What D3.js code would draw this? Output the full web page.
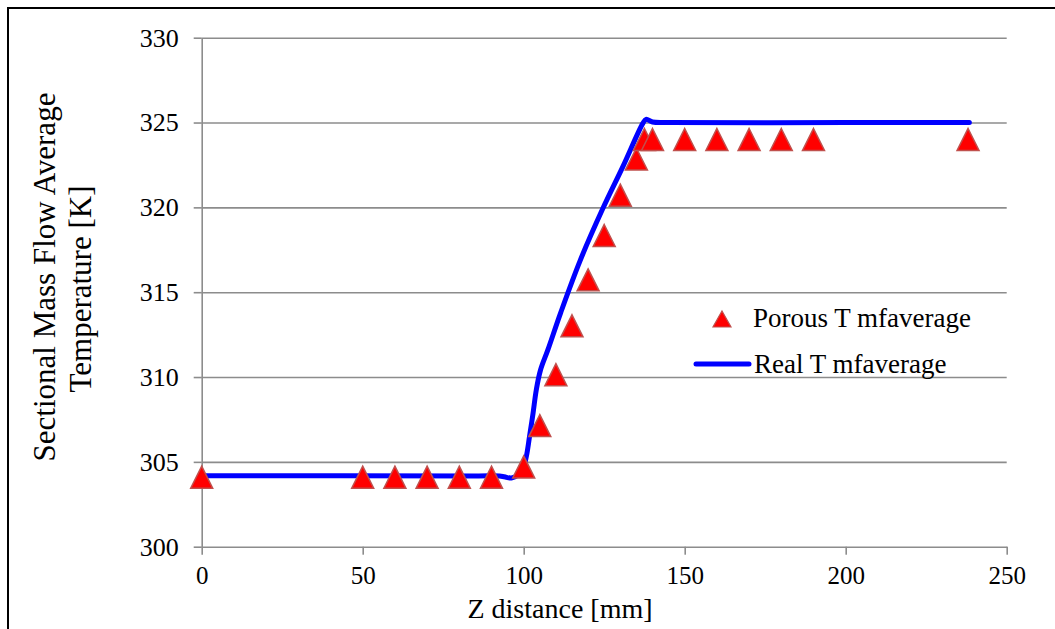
<!DOCTYPE html>
<html>
<head>
<meta charset="utf-8">
<script src="https://cdn.jsdelivr.net/npm/d3@7"></script>
<style>
  body { margin: 0; background: #fff; }
  svg text { fill: #000; }
</style>
</head>
<body>
<div id="chart"></div>
<script>
// data
var porousZ = [0, 50, 60, 70, 80, 90, 100, 105, 110, 115, 120, 125, 130, 135, 137.5, 140, 150, 160, 170, 180, 190, 238];
var porousT = [304.1, 304.1, 304.1, 304.1, 304.1, 304.1, 304.7, 307.14, 310.14, 313.02, 315.73, 318.34, 320.72, 322.85, 324.0, 324.0, 324.0, 324.0, 324.0, 324.0, 324.0, 324.0];

var realZ = [0, 86, 92.5, 94, 96.2, 98.2, 99.8, 100.8, 101.8, 102.9, 103.9, 105.2, 107.5, 111.5, 117.5, 124.5, 130.8, 137.0, 138.0, 140.0, 145, 200, 238.4];
var realT = [304.18, 304.17, 304.17, 304.12, 304.05, 304.23, 304.62, 305.30, 306.48, 307.86, 309.23, 310.4, 311.6, 313.8, 316.85, 319.9, 322.4, 324.95, 325.19, 325.03, 325.0, 325.0, 325.0];

var xTicks = [0, 50, 100, 150, 200, 250];
var yTicks = [300, 305, 310, 315, 320, 325, 330];

var seriesNames = ["Porous T mfaverage", "Real T mfaverage"];

var W = 1055, H = 629;
var plot = {left: 201.7, right: 1006.7, top: 37.7, bottom: 546.7};
var gridColor = "#8c8c8c";
var serif = "'Liberation Serif', 'Times New Roman', Times, 'DejaVu Serif', serif";

var x = d3.scaleLinear().domain([0, 250]).range([plot.left, plot.right]);
var y = d3.scaleLinear().domain([300, 330]).range([plot.bottom, plot.top]);

var svg = d3.select("#chart").append("svg")
  .attr("width", W)
  .attr("height", H)
  .attr("font-family", serif);

// outer frame
svg.append("rect")
  .attr("x", 8).attr("y", 8)
  .attr("width", 1100).attr("height", 700)
  .attr("fill", "none")
  .attr("stroke", "#000")
  .attr("stroke-width", 2);

////////////////////// grid + axes //////////////////////

svg.append("g")
  .attr("class", "grid")
  .attr("transform", "translate(" + plot.left + ",0)")
  .call(d3.axisRight(y).tickValues(yTicks.slice(1)).tickSize(plot.right - plot.left).tickFormat(""))
  .call(function(g) { g.select(".domain").remove(); })
  .selectAll("line")
  .attr("stroke", gridColor)
  .attr("stroke-width", 1.6);

var yAxis = svg.append("g")
  .attr("transform", "translate(" + plot.left + ",0)")
  .call(d3.axisLeft(y).tickValues(yTicks).tickSize(8).tickSizeOuter(0).tickPadding(15));

var xAxis = svg.append("g")
  .attr("transform", "translate(0," + plot.bottom + ")")
  .call(d3.axisBottom(x).tickValues(xTicks).tickSize(8).tickSizeOuter(0).tickPadding(12));

[yAxis, xAxis].forEach(function(a) {
  a.attr("font-family", serif).attr("font-size", 26);
  a.select(".domain").attr("stroke", gridColor).attr("stroke-width", 1.6);
  a.selectAll(".tick line").attr("stroke", gridColor).attr("stroke-width", 1.6);
  a.selectAll(".tick text").attr("fill", "#000");
});
xAxis.attr("font-size", 25);

////////////////////// series //////////////////////

var realLine = d3.line()
  .x(function(d) { return x(d[0]); })
  .y(function(d) { return y(d[1]); })
  .curve(d3.curveCatmullRom.alpha(0.5));

svg.append("path")
  .datum(d3.zip(realZ, realT))
  .attr("d", realLine)
  .attr("fill", "none")
  .attr("stroke", "#0000ff")
  .attr("stroke-width", 5)
  .attr("stroke-linecap", "round")
  .attr("stroke-linejoin", "round");

function tri(w, h) {
  return "M0," + (-h/2) + "L" + (w/2) + "," + (h/2) + "L" + (-w/2) + "," + (h/2) + "Z";
}

svg.selectAll("path.porous")
  .data(d3.zip(porousZ, porousT))
  .enter().append("path")
  .attr("class", "porous")
  .attr("d", tri(22, 22))
  .attr("transform", function(d) { return "translate(" + x(d[0]) + "," + y(d[1]) + ")"; })
  .attr("fill", "#ff0000")
  .attr("stroke", "#c0504d")
  .attr("stroke-width", 1.5);

////////////////////// legend //////////////////////

var legend = svg.append("g").attr("font-size", 27);

legend.append("path")
  .attr("d", tri(18, 16))
  .attr("transform", "translate(722,319)")
  .attr("fill", "#ff0000")
  .attr("stroke", "#c0504d")
  .attr("stroke-width", 1.2);

legend.append("text")
  .attr("x", 753).attr("y", 327)
  .text(seriesNames[0]);

legend.append("line")
  .attr("x1", 696).attr("x2", 749)
  .attr("y1", 364).attr("y2", 364)
  .attr("stroke", "#0000ff")
  .attr("stroke-width", 5)
  .attr("stroke-linecap", "round");

legend.append("text")
  .attr("x", 754).attr("y", 373)
  .text(seriesNames[1]);

////////////////////// axis titles //////////////////////

svg.append("text")
  .attr("x", 560).attr("y", 618)
  .attr("text-anchor", "middle")
  .attr("font-size", 28)
  .text("Z distance [mm]");

svg.append("text")
  .attr("transform", "translate(55,277) rotate(-90)")
  .attr("text-anchor", "middle")
  .attr("font-size", 31)
  .text("Sectional Mass Flow Average");

svg.append("text")
  .attr("transform", "translate(91,289) rotate(-90)")
  .attr("text-anchor", "middle")
  .attr("font-size", 31)
  .text("Temperature [K]");
</script>
</body>
</html>
